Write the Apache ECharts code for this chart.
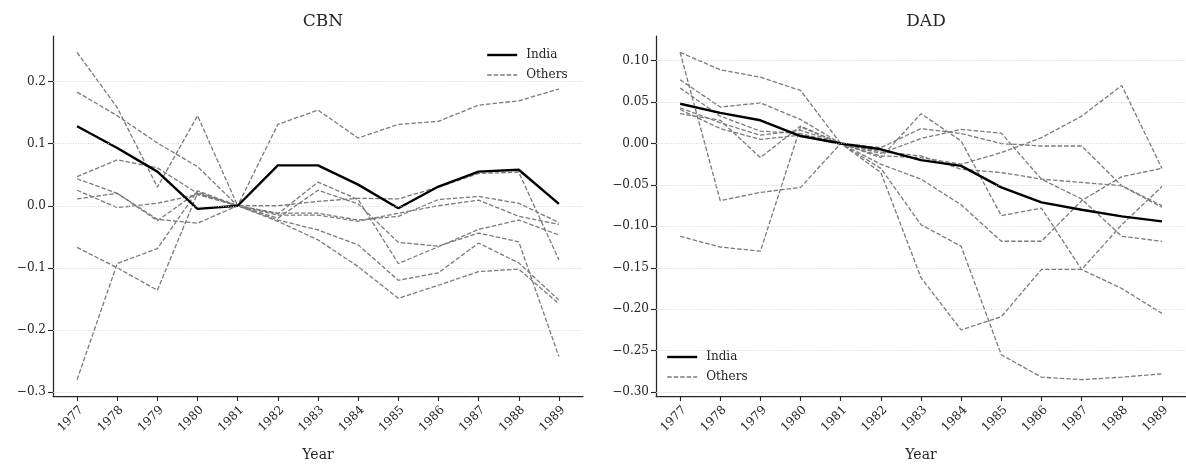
<!DOCTYPE html>
<html>
<head>
<meta charset="utf-8">
<script src="https://cdn.jsdelivr.net/npm/echarts@6/dist/echarts.min.js"></script>
<style>
  html, body { margin: 0; padding: 0; background: #ffffff; }
  #chart { width: 1186px; height: 464px; }
</style>
</head>
<body>
<div id="chart"></div>
<script>
// Years on the horizontal axis
const years = [1977, 1978, 1979, 1980, 1981, 1982, 1983, 1984, 1985, 1986, 1987, 1988, 1989];

// CBN panel: India and the comparison countries (deviation from 1981)
const cbnIndia = [0.128, 0.093, 0.055, -0.005, 0.000, 0.065, 0.065, 0.034, -0.004, 0.031, 0.055, 0.058, 0.003];
const cbnOthers = [
  [0.183, 0.145, 0.101, 0.063, 0, 0.131, 0.154, 0.109, 0.131, 0.136, 0.162, 0.169, 0.188],
  [0.247, 0.158, 0.030, 0.145, 0, -0.013, 0.038, 0.010, -0.093, -0.066, -0.038, -0.023, -0.047],
  [0.011, 0.020, -0.022, -0.028, 0, -0.020, 0.025, 0.003, -0.059, -0.065, -0.044, -0.058, -0.243],
  [0.047, 0.074, 0.061, 0.020, 0, 0.000, 0.007, 0.012, 0.011, 0.030, 0.052, 0.054, -0.087],
  [0.0435, 0.020, -0.024, 0.022, 0, -0.012, -0.012, -0.023, -0.017, 0.010, 0.015, 0.004, -0.027],
  [0.025, -0.003, 0.004, 0.018, 0, -0.015, -0.015, -0.025, -0.012, 0.000, 0.009, -0.017, -0.030],
  [-0.067, -0.100, -0.136, 0.020, 0, -0.023, -0.039, -0.063, -0.120, -0.108, -0.060, -0.092, -0.152],
  [-0.280, -0.093, -0.069, 0.024, 0, -0.025, -0.055, -0.098, -0.149, -0.128, -0.106, -0.102, -0.158]
];

// DAD panel
const dadIndia = [0.048, 0.037, 0.028, 0.009, 0.000, -0.007, -0.020, -0.027, -0.053, -0.071, -0.080, -0.088, -0.094];
const dadOthers = [
  [0.110, 0.089, 0.080, 0.064, 0, -0.010, -0.015, -0.031, -0.035, -0.043, -0.047, -0.051, -0.075],
  [0.110, -0.069, -0.059, -0.053, 0, -0.035, -0.162, -0.225, -0.209, -0.152, -0.152, -0.098, -0.052],
  [0.077, 0.044, 0.049, 0.029, 0, -0.015, -0.017, -0.025, -0.011, 0.007, 0.033, 0.070, -0.030],
  [0.067, 0.033, 0.015, 0.012, 0, -0.005, 0.018, 0.012, 0.000, -0.003, -0.003, -0.051, -0.077],
  [0.043, 0.025, 0.010, 0.016, 0, -0.012, 0.006, 0.017, 0.0125, -0.043, -0.067, -0.112, -0.118],
  [0.041, 0.018, 0.005, 0.010, 0, -0.017, 0.036, 0.003, -0.087, -0.078, -0.152, -0.175, -0.205],
  [0.036, 0.028, -0.017, 0.021, 0, -0.025, -0.043, -0.074, -0.118, -0.118, -0.069, -0.040, -0.030],
  [-0.112, -0.125, -0.130, 0.020, 0, -0.030, -0.098, -0.124, -0.255, -0.282, -0.285, -0.282, -0.278]
];

// Tick values for each vertical axis
const cbnTicks = [-0.3, -0.2, -0.1, 0.0, 0.1, 0.2];
const dadTicks = [-0.30, -0.25, -0.20, -0.15, -0.10, -0.05, 0.00, 0.05, 0.10];

const FONT = 'DejaVu Serif';
const INK = '#262626';
const GREY = '#7a7a7a';
const INDIA_STYLE = { color: '#000000', width: 2.4 };
const OTHER_STYLE = { color: GREY, width: 1.3, type: [4.5, 2] };

function padRange(values, frac) {
  const lo = Math.min(...values), hi = Math.max(...values);
  const pad = (hi - lo) * frac;
  return [lo - pad, hi + pad];
}

const cbnRange = padRange(cbnOthers.flat().concat(cbnIndia), 0.05);
const dadRange = padRange(dadOthers.flat().concat(dadIndia), 0.05);
const xPad = (years[years.length - 1] - years[0]) * 0.05;

function fmt(digits) {
  return v => {
    const s = Math.abs(v) < 1e-9 ? (0).toFixed(digits) : v.toFixed(digits);
    return s.replace('-', '\u2212');
  };
}

function xAxis(gridIndex) {
  return {
    type: 'value', gridIndex,
    min: years[0] - xPad, max: years[years.length - 1] + xPad,
    name: 'Year', nameLocation: 'middle', nameGap: 52,
    nameTextStyle: { fontFamily: FONT, fontSize: 14, color: INK },
    axisLine: { show: true, onZero: false, lineStyle: { color: INK, width: 1.25 } },
    axisTick: { show: true, customValues: years, length: 5, lineStyle: { color: INK, width: 1.1 } },
    axisLabel: { customValues: years, rotate: 45, margin: 8, align: 'right', verticalAlign: 'top',
                 formatter: v => String(v), fontFamily: FONT, fontSize: 12, color: INK },
    splitLine: { show: false }
  };
}

function yAxis(gridIndex, range, ticks, digits) {
  return {
    type: 'value', gridIndex,
    min: range[0], max: range[1],
    axisLine: { show: true, onZero: false, lineStyle: { color: INK, width: 1.25 } },
    axisTick: { show: true, customValues: ticks, length: 5, lineStyle: { color: INK, width: 1.1 } },
    axisLabel: { customValues: ticks, margin: 7, formatter: fmt(digits),
                 fontFamily: FONT, fontSize: 12, color: INK },
    splitLine: { show: false }
  };
}

function toPoints(vals) { return years.map((y, i) => [y, vals[i]]); }

function gridLines(idx, ticks) {
  return {
    type: 'line', name: 'grid' + idx, xAxisIndex: idx, yAxisIndex: idx,
    data: [], silent: true, z: 1,
    markLine: {
      silent: true, symbol: ['none', 'none'], animation: false,
      label: { show: false },
      lineStyle: { color: '#cccccc', width: 0.8, type: [1, 1.5] },
      emphasis: { disabled: true },
      data: ticks.map(t => ({ yAxis: t }))
    }
  };
}

function otherSeries(idx, rows) {
  return rows.map(r => ({
    type: 'line', name: 'Others', xAxisIndex: idx, yAxisIndex: idx,
    data: toPoints(r), symbol: 'none', showSymbol: false, silent: true, z: 2,
    itemStyle: { color: GREY },
    lineStyle: OTHER_STYLE
  }));
}

function indiaSeries(idx, vals) {
  return {
    type: 'line', name: 'India', xAxisIndex: idx, yAxisIndex: idx,
    data: toPoints(vals), symbol: 'none', showSymbol: false, silent: true, z: 3,
    itemStyle: { color: '#000000' },
    lineStyle: INDIA_STYLE
  };
}

const legendBase = {
  orient: 'vertical', padding: 0,
  data: [
    { name: 'India', lineStyle: INDIA_STYLE },
    { name: 'Others', lineStyle: OTHER_STYLE }
  ],
  itemWidth: 30, itemHeight: 14, itemGap: 8,
  selectedMode: false,
  itemStyle: { opacity: 0, borderWidth: 0 },
  textStyle: { fontFamily: FONT, fontSize: 12, color: INK, padding: [0, 0, 0, 4] }
};

const option = {
  animation: false,
  backgroundColor: '#ffffff',
  title: [
    { text: 'CBN', left: 318, top: 8, textAlign: 'center',
      textStyle: { fontFamily: FONT, fontSize: 17, fontWeight: 'normal', color: INK } },
    { text: 'DAD', left: 921, top: 8, textAlign: 'center',
      textStyle: { fontFamily: FONT, fontSize: 17, fontWeight: 'normal', color: INK } }
  ],
  grid: [
    { left: 53, top: 36, width: 530, height: 360, outerBoundsMode: 'none', containLabel: false },
    { left: 656, top: 36, width: 530, height: 360, outerBoundsMode: 'none', containLabel: false }
  ],
  legend: [
    Object.assign({}, legendBase, { left: 486, top: 49 }),
    Object.assign({}, legendBase, { left: 666, top: 351 })
  ],
  xAxis: [xAxis(0), xAxis(1)],
  yAxis: [yAxis(0, cbnRange, cbnTicks, 1), yAxis(1, dadRange, dadTicks, 2)],
  series: [
    gridLines(0, cbnTicks),
    gridLines(1, dadTicks),
    ...otherSeries(0, cbnOthers),
    indiaSeries(0, cbnIndia),
    ...otherSeries(1, dadOthers),
    indiaSeries(1, dadIndia)
  ]
};

const chart = echarts.init(document.getElementById('chart'), null, { renderer: 'canvas' });
chart.setOption(option);
</script>
</body>
</html>
